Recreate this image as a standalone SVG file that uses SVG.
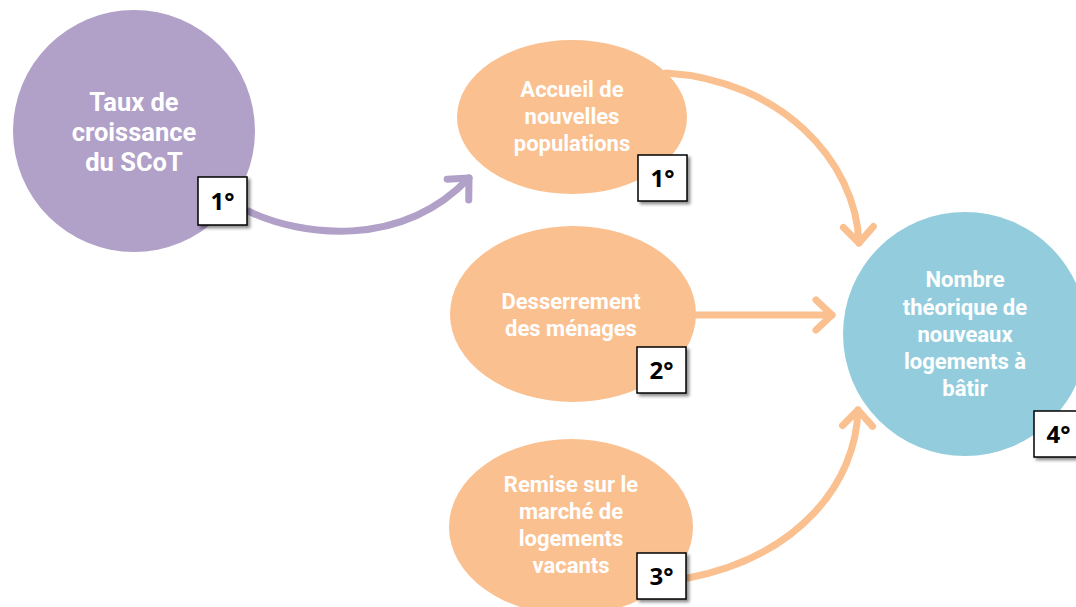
<svg xmlns="http://www.w3.org/2000/svg" width="1076" height="607" viewBox="0 0 1076 607">
<style>
.nt{font-family:Roboto,"Liberation Sans",sans-serif;font-weight:bold;fill:#FFFFFF;text-anchor:middle}
.big{font-size:25.5px}
.sm{font-size:22px}
.box{fill:#FFFFFF;stroke:#000000;stroke-width:1.5;filter:url(#sh)}
.bt{font-family:"Open Sans","Liberation Sans",sans-serif;font-weight:bold;font-size:24px;fill:#000000;text-anchor:middle}
.ap{fill:none;stroke:#B1A0C7;stroke-width:7;stroke-linecap:round}
.ao{fill:none;stroke:#FAC090;stroke-width:7;stroke-linecap:round}
</style>
<defs>
<filter id="sh" x="-20%" y="-20%" width="150%" height="150%">
<feDropShadow dx="2.5" dy="2.5" stdDeviation="1.5" flood-color="#000000" flood-opacity="0.45"/>
</filter>
<marker id="mp" markerUnits="userSpaceOnUse" viewBox="-20 -20 24 40" refX="0" refY="0" markerWidth="24" markerHeight="40" orient="auto" overflow="visible">
<path d="M -16 -15 L 0 0 L -16 15" fill="none" stroke="#B1A0C7" stroke-width="7" stroke-linecap="round" stroke-linejoin="round"/>
</marker>
<marker id="mo" markerUnits="userSpaceOnUse" viewBox="-20 -20 24 40" refX="0" refY="0" markerWidth="24" markerHeight="40" orient="auto" overflow="visible">
<path d="M -16 -15 L 0 0 L -16 15" fill="none" stroke="#FAC090" stroke-width="7" stroke-linecap="round" stroke-linejoin="round"/>
</marker>
</defs>
<rect width="1076" height="607" fill="#FFFFFF"/>
<g id="connectors">
<path class="ap" d="M 248 211 C 300 236 400 250 469 178" marker-end="url(#mp)"/>
<path class="ao" d="M 666 73 C 780 80 856 160 859 243" marker-end="url(#mo)"/>
<path class="ao" d="M 696 315 L 832 315" marker-end="url(#mo)"/>
<path class="ao" d="M 688 578 C 800 556 856 482 858 410" marker-end="url(#mo)"/>
</g>
<g id="node-taux">
<circle cx="134" cy="131" r="121" fill="#B1A0C7"/>
<text class="nt big" x="134" y="111">Taux de</text>
<text class="nt big" x="134" y="141">croissance</text>
<text class="nt big" x="134" y="171">du SCoT</text>
<rect class="box" x="198" y="177" width="49" height="48"/>
<text class="bt" x="222.5" y="210">1°</text>
</g>
<g id="node-accueil">
<ellipse cx="572" cy="117" rx="115" ry="77" fill="#FAC090"/>
<text class="nt sm" x="572" y="97">Accueil de</text>
<text class="nt sm" x="572" y="124">nouvelles</text>
<text class="nt sm" x="572" y="151">populations</text>
<rect class="box" x="638" y="155" width="49" height="46"/>
<text class="bt" x="662.5" y="187">1°</text>
</g>
<g id="node-desserrement">
<ellipse cx="573" cy="314" rx="123" ry="88" fill="#FAC090"/>
<text class="nt sm" x="571" y="309">Desserrement</text>
<text class="nt sm" x="571" y="336">des ménages</text>
<rect class="box" x="637" y="347" width="49" height="46"/>
<text class="bt" x="661.5" y="379">2°</text>
</g>
<g id="node-remise">
<ellipse cx="571" cy="527" rx="122" ry="88" fill="#FAC090"/>
<text class="nt sm" x="571" y="492">Remise sur le</text>
<text class="nt sm" x="571" y="519">marché de</text>
<text class="nt sm" x="571" y="546">logements</text>
<text class="nt sm" x="571" y="573">vacants</text>
<rect class="box" x="637" y="553" width="49" height="46"/>
<text class="bt" x="661.5" y="585">3°</text>
</g>
<g id="node-nombre">
<circle cx="965" cy="334" r="122" fill="#93CDDD"/>
<text class="nt sm" x="965" y="287">Nombre</text>
<text class="nt sm" x="965" y="315">théorique de</text>
<text class="nt sm" x="965" y="342">nouveaux</text>
<text class="nt sm" x="965" y="369">logements à</text>
<text class="nt sm" x="965" y="396">bâtir</text>
<rect class="box" x="1034" y="411" width="49" height="46"/>
<text class="bt" x="1058.5" y="443">4°</text>
</g>
</svg>
